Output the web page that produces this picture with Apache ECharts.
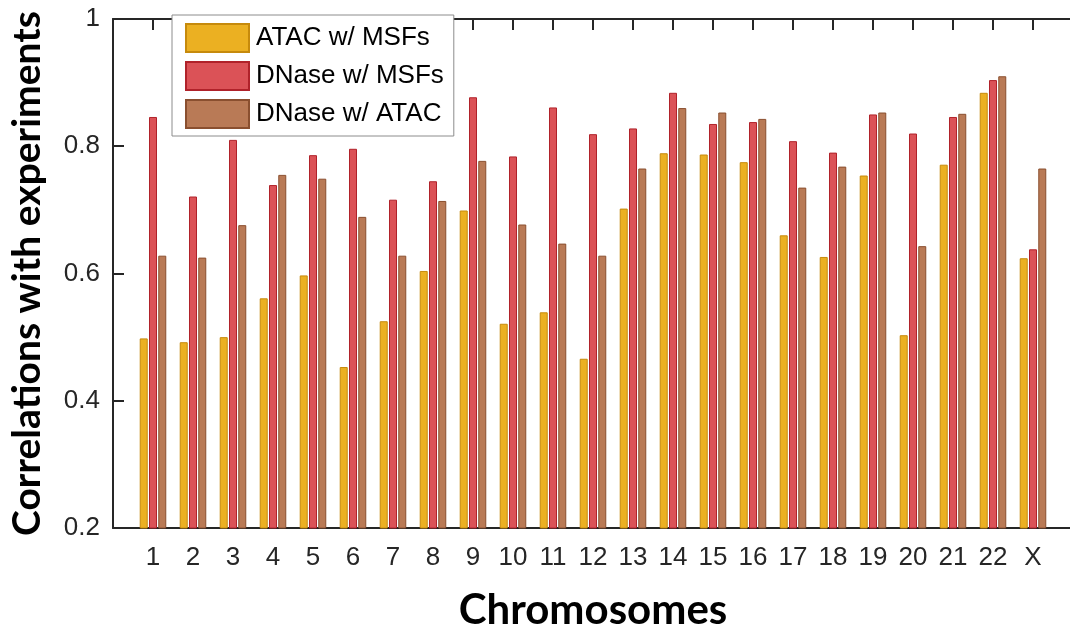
<!DOCTYPE html>
<html>
<head>
<meta charset="utf-8">
<script src="https://cdn.jsdelivr.net/npm/echarts@6/dist/echarts.min.js"></script>
<style>
  html, body { margin: 0; padding: 0; background: #ffffff; overflow: hidden; }
  #chart { width: 1070px; height: 627px; }
</style>
</head>
<body>
<div id="chart"></div>
<script>
// Chromosome labels along the x axis
const chromosomes = ['1','2','3','4','5','6','7','8','9','10','11','12','13','14','15','16','17','18','19','20','21','22','X'];

// Correlation of each prediction with experiments, per chromosome
const atacMsfs  = [0.498,0.492,0.500,0.561,0.597,0.453,0.525,0.604,0.699,0.521,0.539,0.466,0.702,0.789,0.787,0.775,0.660,0.626,0.754,0.503,0.771,0.884,0.624];
const dnaseMsfs = [0.846,0.721,0.810,0.739,0.786,0.796,0.716,0.745,0.877,0.784,0.861,0.819,0.828,0.884,0.835,0.838,0.808,0.790,0.850,0.820,0.846,0.904,0.638];
const dnaseAtac = [0.628,0.625,0.676,0.755,0.749,0.689,0.628,0.714,0.777,0.677,0.647,0.628,0.765,0.860,0.853,0.843,0.735,0.768,0.853,0.643,0.851,0.910,0.765];

const seriesNames = ['ATAC w/ MSFs', 'DNase w/ MSFs', 'DNase w/ ATAC'];
const yTicks = [0.2, 0.4, 0.6, 0.8, 1];

// Pad one empty slot at each end so the axis runs from 0 to 24
const cats = [''].concat(chromosomes, ['']);
const pad = arr => [null].concat(arr, [null]);

const axisColor = '#262626';
const tickFont = { fontFamily: 'Liberation Sans, Arial, sans-serif', fontSize: 26, color: axisColor };

function barSeries(name, data, fill, edge) {
  return {
    name: name,
    type: 'bar',
    xAxisIndex: 0,
    yAxisIndex: 0,
    data: pad(data),
    barWidth: 8,
    barGap: '16%',
    itemStyle: { color: fill, borderColor: edge, borderWidth: 1 },
    emphasis: { disabled: true }
  };
}

const chart = echarts.init(document.getElementById('chart'), null, { renderer: 'canvas' });
chart.setOption({
  animation: false,
  backgroundColor: '#ffffff',
  // The plot box runs a little past the right edge of the canvas
  grid: { left: 113, top: 19, width: 960, height: 509, containLabel: false, outerBoundsMode: 'none' },
  legend: {
    orient: 'vertical',
    left: 172,
    top: 15,
    data: seriesNames,
    itemWidth: 63,
    itemHeight: 28,
    itemGap: 8,
    padding: [8, 10, 7, 13],
    backgroundColor: '#ffffff',
    borderColor: '#8c8c8c',
    borderWidth: 1,
    borderRadius: 0,
    icon: 'rect',
    textStyle: { fontFamily: 'Liberation Sans, Arial, sans-serif', fontSize: 26, lineHeight: 28, color: '#000000', padding: [0, 0, 0, 2] },
    selectedMode: false
  },
  xAxis: [
    {
      type: 'category',
      data: cats,
      boundaryGap: false,
      position: 'bottom',
      axisLine: { lineStyle: { color: axisColor, width: 2 } },
      axisTick: { show: false },
      axisLabel: Object.assign({ margin: 17, interval: 0 }, tickFont),
      splitLine: { show: false },
      name: 'Chromosomes',
      nameLocation: 'middle',
      nameGap: 61,
      nameTextStyle: { fontFamily: 'Lato, sans-serif', fontWeight: 'bold', fontSize: 42, color: '#000000' }
    },
    {
      type: 'category',
      data: cats,
      boundaryGap: false,
      position: 'top',
      axisLine: { lineStyle: { color: axisColor, width: 2 } },
      axisTick: { show: true, inside: true, length: 11, lineStyle: { color: axisColor, width: 2 } },
      axisLabel: { show: false },
      splitLine: { show: false }
    }
  ],
  yAxis: [
    {
      type: 'value',
      min: 0.2,
      max: 1,
      interval: 0.2,
      position: 'left',
      axisLine: { show: true, lineStyle: { color: axisColor, width: 2 } },
      axisTick: { show: true, inside: true, length: 11, lineStyle: { color: axisColor, width: 2 } },
      axisLabel: Object.assign({
        margin: 13,
        formatter: v => {
          const t = yTicks.find(y => Math.abs(y - v) < 1e-9);
          return t === undefined ? '' : String(t);
        }
      }, tickFont),
      splitLine: { show: false },
      name: 'Correlations with experiments',
      nameLocation: 'middle',
      nameGap: 66,
      nameTextStyle: { fontFamily: 'Lato, sans-serif', fontWeight: 'bold', fontSize: 39, color: '#000000' }
    },
    {
      type: 'value',
      min: 0.2,
      max: 1,
      interval: 0.2,
      position: 'right',
      axisLine: { show: true, lineStyle: { color: axisColor, width: 2 } },
      axisTick: { show: false },
      axisLabel: { show: false },
      splitLine: { show: false }
    }
  ],
  series: [
    barSeries(seriesNames[0], atacMsfs, '#EBB022', '#C68A0C'),
    barSeries(seriesNames[1], dnaseMsfs, '#DB5257', '#B0222A'),
    barSeries(seriesNames[2], dnaseAtac, '#B97A56', '#8A4F2F')
  ]
});
</script>
</body>
</html>
